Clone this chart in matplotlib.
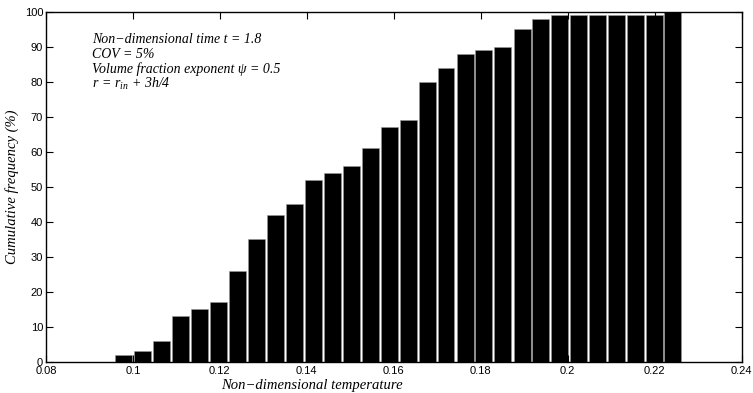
import matplotlib.pyplot as plt

# bin centres (non-dimensional temperature) and cumulative frequency (%)
bin_centers = [0.0979, 0.1023, 0.1066, 0.1110, 0.1153, 0.1197, 0.1241, 0.1284,
               0.1328, 0.1371, 0.1415, 0.1459, 0.1502, 0.1546, 0.1589, 0.1633,
               0.1677, 0.1720, 0.1764, 0.1807, 0.1851, 0.1895, 0.1938, 0.1982,
               0.2025, 0.2069, 0.2113, 0.2156, 0.2200, 0.2240]
cum_freq = [2, 3, 6, 13, 15, 17, 26, 35, 42, 45, 52, 54, 56, 61, 67, 69,
            80, 84, 88, 89, 90, 95, 98, 99, 99, 99, 99, 99, 99, 100]
x_ticks = [0.08, 0.1, 0.12, 0.14, 0.16, 0.18, 0.2, 0.22, 0.24]
y_ticks = [0, 10, 20, 30, 40, 50, 60, 70, 80, 90, 100]
notes = ['Non\u2212dimensional time t = 1.8',
         'COV = 5%',
         'Volume fraction exponent \u03c8 = 0.5',
         r'$r\,=\,r_{in}\,+\,3h/4$']

plt.rcParams['mathtext.fontset'] = 'custom'
plt.rcParams['mathtext.rm'] = 'Liberation Serif:italic'
plt.rcParams['mathtext.it'] = 'Liberation Serif:italic'

fig = plt.figure(figsize=(7.53, 3.93), dpi=100)
ax = fig.add_axes([0.061, 0.079, 0.924, 0.891])

ax.bar(bin_centers, cum_freq, width=0.0039, color='black',
       edgecolor='0.6', linewidth=0.4)

ax.set_xlim(0.08, 0.24)
ax.set_ylim(0, 100)
ax.set_xticks(x_ticks)
ax.set_xticklabels(['0.08', '0.1', '0.12', '0.14', '0.16', '0.18', '0.2', '0.22', '0.24'])
ax.set_yticks(y_ticks)
ax.tick_params(direction='in', length=5, width=0.8, top=True, right=True,
               labelsize=8, pad=2)
ax.tick_params(axis='x', pad=3)
for lab in ax.get_xticklabels() + ax.get_yticklabels():
    lab.set_family('Liberation Sans')
for sp in ax.spines.values():
    sp.set_linewidth(1.0)

serif = dict(family='Liberation Serif', style='italic', fontsize=10.5)
ax.set_xlabel('Non\u2212dimensional temperature', labelpad=0, **serif)
ax.xaxis.set_label_coords(0.382, -0.05)
ax.set_ylabel('Cumulative frequency (%)', labelpad=4, **serif)

ys = [0.92, 0.877, 0.837, 0.794]
for txt, y in zip(notes, ys):
    ax.text(0.066, y, txt, transform=ax.transAxes, va='center', ha='left',
            family='Liberation Serif', style='italic', fontsize=10)

fig.savefig('out.png', dpi=100)
